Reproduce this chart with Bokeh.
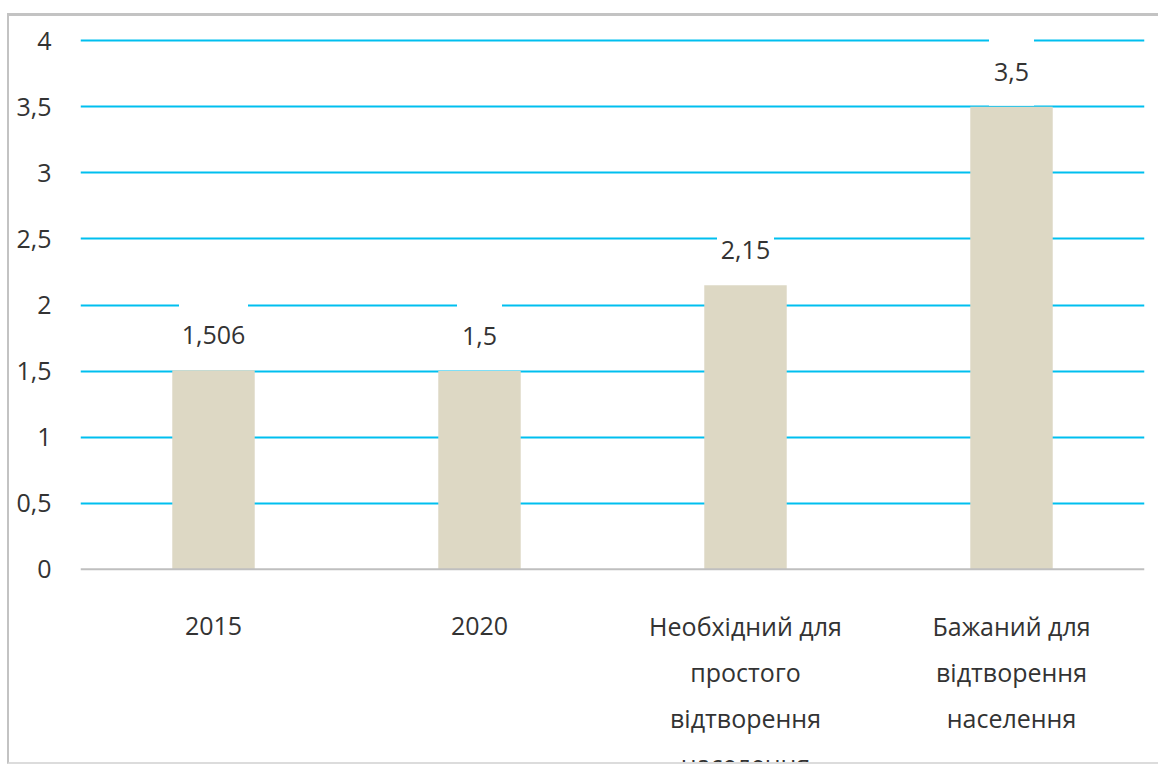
from bokeh.plotting import figure
from bokeh.models import Range1d, FixedTicker, CustomJSTickFormatter, Span, ColumnDataSource
from bokeh.core.properties import value
from bokeh.embed import file_html
from bokeh.resources import INLINE

categories = ["2015", "2020", "Необхідний для\nпростого\nвідтворення\nнаселення", "Бажаний для\nвідтворення\nнаселення"]
values = [1.506, 1.5, 2.15, 3.5]
value_labels = ["1,506", "1,5", "2,15", "3,5"]
y_ticks = [0, 0.5, 1, 1.5, 2, 2.5, 3, 3.5, 4]

FONT = "Open Sans"
FS = "25px"
TXT = "#333333"
GRID = "#00BFEF"
BAR = "#DDD8C4"

x_pos = [i + 0.5 for i in range(len(categories))]

p = figure(width=1162, height=751, output_backend="svg", toolbar_location=None,
           x_range=Range1d(0, len(categories)), y_range=Range1d(-1.5, 4.1),
           x_axis_location=None, min_border_left=71, min_border_right=27,
           min_border_top=11, min_border_bottom=0)
p.styles = {"margin-left": "7px", "margin-top": "13px",
            "border-left": "2px solid #c3c3c3", "border-top": "3px solid #c3c3c3",
            "border-bottom": "2px solid #dcdcdc"}
p.outline_line_color = None
p.background_fill_color = "white"
p.border_fill_color = "white"

# y axis
p.yaxis.ticker = FixedTicker(ticks=y_ticks)
p.yaxis.formatter = CustomJSTickFormatter(code="return tick.toString().replace('.', ',');")
p.yaxis.axis_line_color = None
p.yaxis.major_tick_line_color = None
p.yaxis.minor_tick_line_color = None
p.yaxis.major_label_standoff = 23
p.yaxis.major_label_text_font = FONT
p.yaxis.major_label_text_font_size = FS
p.yaxis.major_label_text_color = TXT

# grid
p.xgrid.visible = False
p.ygrid.ticker = FixedTicker(ticks=[t for t in y_ticks if t > 0])
p.ygrid.grid_line_color = GRID
p.ygrid.grid_line_width = 2
p.add_layout(Span(location=0, dimension="width", line_color="#bfbfbf", line_width=2))

# bars
src = ColumnDataSource(dict(x=x_pos, top=values, lab=value_labels,
                            w=[len(s) * 12 + 9 for s in value_labels]))
p.vbar(x="x", top="top", bottom=0, width=0.31, source=src, fill_color=BAR, line_color=None)

# label backgrounds (white boxes above bars)
ppu = 740 / (4.1 - (-1.5))
src.data["box_y"] = [v + 36 / ppu for v in values]
p.rect(x="x", y="box_y", width="w", height=70, width_units="screen", height_units="screen",
       source=src, fill_color="white", line_color=None)
p.text(x="x", y="top", text="lab", source=src, y_offset=-35, text_align="center",
       text_baseline="middle", text_font=value(FONT), text_font_size=FS, text_color=TXT)

# category labels
cat_src = ColumnDataSource(dict(x=x_pos, y=[0] * len(categories), t=categories,
                                off=[48 if "\n" not in c else 40 for c in categories]))
p.text(x="x", y="y", text="t", source=cat_src, y_offset="off", text_align="center",
       text_baseline="top", text_font=value(FONT), text_font_size=FS, text_color=TXT,
       text_line_height=1.35)

open("out.html", "w").write(file_html(p, INLINE))
